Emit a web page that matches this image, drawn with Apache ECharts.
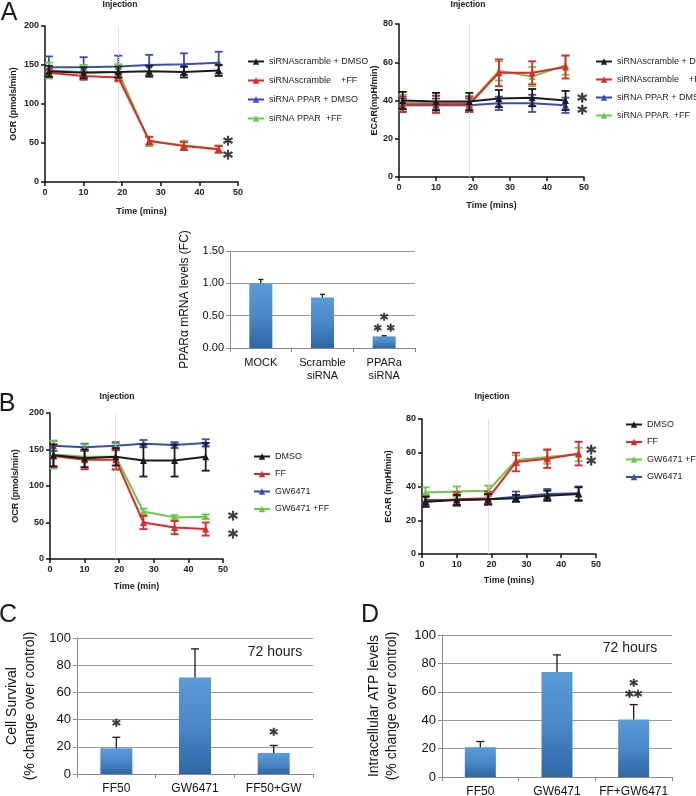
<!DOCTYPE html>
<html><head><meta charset="utf-8">
<script src="https://cdn.jsdelivr.net/npm/echarts/dist/echarts.min.js"></script>
<style>html,body{margin:0;padding:0;background:#fff}#c{width:696px;height:796px}</style>
</head><body><div id="c"></div><script>
// ---------- data ----------
const times = [1, 10, 19, 27, 36, 45];
const injectionTime = 19;

const namesA = ['siRNAscramble + DMSO', 'siRNAscramble    +FF', 'siRNA PPAR + DMSO', 'siRNA PPAR  +FF'];
// Panel A – OCR
const ocrA_scrDMSO = [142, 140, 141, 142, 141, 143];
const ocrA_scrDMSO_sd = [7, 7, 7, 7, 7, 7];
const ocrA_scrFF = [140, 136, 134, 53, 46, 42];
const ocrA_scrFF_sd = [5, 5, 5, 5, 5, 4];
const ocrA_ppDMSO = [147, 147, 148, 150, 151, 153];
const ocrA_ppDMSO_sd = [14, 13, 14, 13, 14, 14];
const ocrA_ppFF = [143, 141, 141, 52, 47, 42];
const ocrA_ppFF_sd = [10, 9, 10, 6, 6, 5];
// Panel A – ECAR
const ecarA_scrDMSO = [40, 39.5, 39.5, 41, 41.5, 40];
const ecarA_scrDMSO_sd = [4.5, 4.5, 4.5, 4.5, 4.5, 5];
const ecarA_scrFF = [38, 38, 38, 54.5, 54.5, 57.5];
const ecarA_scrFF_sd = [4, 4.5, 4, 7, 6, 6];
const ecarA_ppDMSO = [37.5, 37.5, 37.5, 38.5, 38.5, 37.5];
const ecarA_ppDMSO_sd = [3.5, 3.5, 3.5, 3.5, 4.5, 4];
const ecarA_ppFF = [39, 38.5, 38.5, 55.5, 52.5, 58.5];
const ecarA_ppFF_sd = [4, 4, 4, 5, 5, 5];

// mRNA bars
const mrnaCats = ['MOCK', 'Scramble\nsiRNA', 'PPARa\nsiRNA'];
const mrnaVals = [1.0, 0.78, 0.18];
const mrnaSd = [0.06, 0.05, 0.01];

const namesB = ['DMSO', 'FF', 'GW6471', 'GW6471 +FF'];
// Panel B – OCR
const ocrB_DMSO = [142, 138, 140, 135, 135, 140];
const ocrB_DMSO_sd = [15, 12, 12, 22, 22, 19];
const ocrB_FF = [141, 136, 136, 50, 43, 41];
const ocrB_FF_sd = [15, 13, 13, 9, 9, 9];
const ocrB_GW = [155, 153, 155, 158, 156, 159];
const ocrB_GW_sd = [7, 5, 5, 5, 4, 5];
const ocrB_GWFF = [143, 140, 140, 65, 57, 58];
const ocrB_GWFF_sd = [19, 17, 18, 4, 3, 3];
// Panel B – ECAR
const ecarB_DMSO = [31, 32, 32.5, 33, 34.5, 35.5];
const ecarB_DMSO_sd = [3, 3, 3, 2, 3, 4];
const ecarB_FF = [31, 32.5, 33, 54.5, 56.5, 59.5];
const ecarB_FF_sd = [3, 4, 4, 5.5, 5.5, 7];
const ecarB_GWFF = [36.5, 37, 37.5, 55.5, 57.5, 59];
const ecarB_GWFF_sd = [3, 3, 3, 3, 4, 4];
const ecarB_GW = [32, 32, 32.5, 34, 35.5, 36];
const ecarB_GW_sd = [3, 3, 3, 3, 3, 4];

// Panel C
const survCats = ['FF50', 'GW6471', 'FF50+GW'];
const survVals = [19, 71, 15.5];
const survSd = [8, 21, 5.5];
// Panel D
const atpCats = ['FF50', 'GW6471', 'FF+GW6471'];
const atpVals = [21, 74, 40.5];
const atpSd = [4, 12, 10.5];

// significance marks [x, y, text]
const starsAL = [[47.4, 55, '*'], [47.4, 37, '*']];
const starsAR = [[49.5, 42, '*'], [49.5, 36, '*']];
const starsMrna = [[2, 0.49, '*'], [2, 0.32, '* *']];
const starsBL = [[52.9, 61, '*'], [52.9, 36, '*']];
const starsBR = [[48.6, 62.5, '*'], [48.6, 56, '*']];
const starsC = [[0, 38.5, '*'], [2, 31.5, '*']];
const starsD = [[2, 67, '*'], [2, 59, '**']];

// ---------- helpers ----------
const C = {black: '#1b1b1b', red: '#e3262a', blue: '#3b4db0', green: '#6cc84a'};
const FONT = 'Liberation Sans, Arial, sans-serif';

function errBar(color, cap, both, lw) {
  return function (params, api) {
    const x = api.value(0), y = api.value(1), e = api.value(2);
    const p1 = api.coord([x, y + e]);
    const p0 = api.coord([x, both ? y - e : y]);
    const st = {stroke: color, lineWidth: lw};
    const ch = [
      {type: 'line', shape: {x1: p1[0], y1: p1[1], x2: p0[0], y2: p0[1]}, style: st},
      {type: 'line', shape: {x1: p1[0] - cap, y1: p1[1], x2: p1[0] + cap, y2: p1[1]}, style: st}
    ];
    if (both) ch.push({type: 'line', shape: {x1: p0[0] - cap, y1: p0[1], x2: p0[0] + cap, y2: p0[1]}, style: st});
    return {type: 'group', children: ch};
  };
}

function lineSet(gi, name, color, ys, es, z) {
  return [
    {type: 'custom', name: name + ' SD' + gi, xAxisIndex: gi, yAxisIndex: gi, z: z, silent: true,
      encode: {x: 0, y: 1}, data: times.map((x, i) => [x, ys[i], es[i]]),
      renderItem: errBar(color, 4, true, 1.8)},
    {type: 'line', name: name, xAxisIndex: gi, yAxisIndex: gi, z: z, silent: true,
      data: times.map((x, i) => [x, ys[i]]), symbol: 'triangle', symbolSize: 7,
      lineStyle: {color: color, width: 2}, itemStyle: {color: color}}
  ];
}

function injLine(gi) {
  return {type: 'line', xAxisIndex: gi, yAxisIndex: gi, data: [], silent: true,
    markLine: {silent: true, symbol: 'none', label: {show: false},
      lineStyle: {color: '#c8c8c8', type: 'dotted', width: 1}, data: [{xAxis: injectionTime}]}};
}

function stars(gi, pts, fs) {
  return {type: 'scatter', xAxisIndex: gi, yAxisIndex: gi, data: pts, symbolSize: 1, clip: false, silent: true, z: 20,
    itemStyle: {color: 'rgba(0,0,0,0)'},
    label: {show: true, position: 'inside', formatter: p => p.value[2], fontSize: fs, fontWeight: 'bold', color: '#111',
      fontFamily: 'DejaVu Sans', offset: [0, fs * 0.3], textBorderColor: '#111', textBorderWidth: 0.6}};
}

function barSet(gi, vals, sd, bw, cap) {
  return [
    {type: 'bar', xAxisIndex: gi, yAxisIndex: gi, data: vals, barWidth: bw, silent: true,
      itemStyle: {color: new echarts.graphic.LinearGradient(0, 0, 0, 1, [
        {offset: 0, color: '#5b9bd8'}, {offset: 0.5, color: '#4a88c8'}, {offset: 1, color: '#2d67a6'}])}},
    {type: 'custom', xAxisIndex: gi, yAxisIndex: gi, z: 5, silent: true, encode: {x: 0, y: 1},
      data: vals.map((v, i) => [i, v, sd[i]]), renderItem: errBar('#1a1a1a', cap, false, 1.3)}
  ];
}

const lineTxt = {fontSize: 9, fontWeight: 'bold', color: '#222', fontFamily: FONT};
function lineX(gi, name, gap) {
  return {type: 'value', gridIndex: gi, min: 0, max: 50, interval: 10, name: name, nameLocation: 'middle', nameGap: gap,
    nameTextStyle: lineTxt,
    axisLine: {show: true, onZero: false, lineStyle: {color: '#111', width: 1.5}},
    axisTick: {show: true, length: 4, lineStyle: {color: '#111', width: 1.5}},
    axisLabel: Object.assign({margin: 6}, lineTxt), splitLine: {show: false}};
}
function lineY(gi, max, interval, name, gap) {
  return {type: 'value', gridIndex: gi, min: 0, max: max, interval: interval, name: name, nameLocation: 'middle', nameGap: gap,
    nameTextStyle: lineTxt,
    axisLine: {show: true, onZero: false, lineStyle: {color: '#111', width: 1.5}},
    axisTick: {show: true, length: 4, lineStyle: {color: '#111', width: 1.5}},
    axisLabel: Object.assign({margin: 6}, lineTxt), splitLine: {show: false}};
}
function barX(gi, cats, fs) {
  return {type: 'category', gridIndex: gi, data: cats,
    axisLine: {show: true, lineStyle: {color: '#8a8a8a', width: 1}},
    axisTick: {show: true, length: 4, alignWithLabel: false, lineStyle: {color: '#8a8a8a'}},
    axisLabel: {interval: 0, hideOverlap: false, fontSize: fs, color: '#111', fontFamily: FONT, margin: 8, lineHeight: fs + 2}};
}
function barY(gi, max, interval, name, gap, fs, nfs, fmt) {
  return {type: 'value', gridIndex: gi, min: 0, max: max, interval: interval, name: name, nameLocation: 'middle', nameGap: gap,
    nameTextStyle: {fontSize: nfs, color: '#111', fontFamily: FONT, lineHeight: nfs + 4},
    axisLine: {show: true, lineStyle: {color: '#8a8a8a', width: 1}},
    axisTick: {show: true, length: 4, lineStyle: {color: '#8a8a8a'}},
    axisLabel: {fontSize: fs, color: '#111', fontFamily: FONT, margin: 6, formatter: fmt},
    splitLine: {show: true, lineStyle: {color: '#9a9a9a', width: 1}}};
}
function legend(names, left, top, gap) {
  return {data: names, orient: 'vertical', left: left, top: top, itemGap: gap, itemWidth: 16, itemHeight: 8,
    selectedMode: false, textStyle: {fontSize: 9, color: '#222', fontFamily: FONT}, padding: 0};
}
function txt(text, x, y, size, weight) {
  return {type: 'text', x: x, y: y, silent: true,
    style: {text: text, fontSize: size, fontWeight: weight || 'normal', fontFamily: FONT, fill: '#1a1a1a',
      align: 'center', verticalAlign: 'middle', textAlign: 'center', textVerticalAlign: 'middle'}};
}

const grid = [
  {left: 45, top: 26, width: 193, height: 156},
  {left: 399, top: 24, width: 185, height: 153},
  {left: 230, top: 251, width: 185, height: 97},
  {left: 50, top: 413, width: 173, height: 146},
  {left: 422, top: 419, width: 174, height: 135},
  {left: 77, top: 638, width: 236, height: 136},
  {left: 442, top: 635, width: 230, height: 142}
].map(g => Object.assign({containLabel: false, outerBoundsMode: 'none'}, g));

const series = [].concat(
  injLine(0),
  lineSet(0, namesA[2], C.blue, ocrA_ppDMSO, ocrA_ppDMSO_sd, 2),
  lineSet(0, namesA[3], C.green, ocrA_ppFF, ocrA_ppFF_sd, 3),
  lineSet(0, namesA[1], C.red, ocrA_scrFF, ocrA_scrFF_sd, 4),
  lineSet(0, namesA[0], C.black, ocrA_scrDMSO, ocrA_scrDMSO_sd, 5),
  stars(0, starsAL, 19),

  injLine(1),
  lineSet(1, namesA[2], C.blue, ecarA_ppDMSO, ecarA_ppDMSO_sd, 2),
  lineSet(1, namesA[3], C.green, ecarA_ppFF, ecarA_ppFF_sd, 3),
  lineSet(1, namesA[1], C.red, ecarA_scrFF, ecarA_scrFF_sd, 4),
  lineSet(1, namesA[0], C.black, ecarA_scrDMSO, ecarA_scrDMSO_sd, 5),
  stars(1, starsAR, 19),

  barSet(2, mrnaVals, mrnaSd, 23, 2.5),
  stars(2, starsMrna, 15),

  injLine(3),
  lineSet(3, namesB[2], C.blue, ocrB_GW, ocrB_GW_sd, 2),
  lineSet(3, namesB[3], C.green, ocrB_GWFF, ocrB_GWFF_sd, 3),
  lineSet(3, namesB[1], C.red, ocrB_FF, ocrB_FF_sd, 4),
  lineSet(3, namesB[0], C.black, ocrB_DMSO, ocrB_DMSO_sd, 5),
  stars(3, starsBL, 19),

  injLine(4),
  lineSet(4, namesB[2], C.blue, ecarB_GW, ecarB_GW_sd, 2),
  lineSet(4, namesB[3], C.green, ecarB_GWFF, ecarB_GWFF_sd, 3),
  lineSet(4, namesB[1], C.red, ecarB_FF, ecarB_FF_sd, 4),
  lineSet(4, namesB[0], C.black, ecarB_DMSO, ecarB_DMSO_sd, 5),
  stars(4, starsBR, 19),

  barSet(5, survVals, survSd, 32, 4),
  stars(5, starsC, 16),
  barSet(6, atpVals, atpSd, 31, 4),
  stars(6, starsD, 16)
);

const option = {
  animation: false,
  backgroundColor: '#fff',
  grid: grid,
  xAxis: [
    lineX(0, 'Time (mins)', 25),
    lineX(1, 'Time (mins)', 24),
    barX(2, mrnaCats, 11),
    lineX(3, 'Time (min)', 23),
    lineX(4, 'Time (mins)', 22),
    barX(5, survCats, 12),
    barX(6, atpCats, 12)
  ],
  yAxis: [
    lineY(0, 200, 50, 'OCR (pmols/min)', 27),
    lineY(1, 80, 20, 'ECAR(mpH/min)', 19),
    barY(2, 1.5, 0.5, 'PPARα mRNA levels (FC)', 37, 11, 12, v => v.toFixed(2)),
    lineY(3, 200, 50, 'OCR (pmols/min)', 30),
    lineY(4, 80, 20, 'ECAR (mpH/min)', 29),
    barY(5, 100, 20, 'Cell Survival\n(% change over control)', 38, 13, 14),
    barY(6, 100, 20, 'Intracellular ATP levels\n(% change over control)', 41, 13, 14)
  ],
  legend: [
    legend(namesA, 247, 57, 10),
    legend(namesA, 595, 57, 9),
    legend(namesB, 253, 452, 8.5),
    legend([namesB[0], namesB[1], namesB[3], namesB[2]], 625, 420, 8.5)
  ],
  graphic: [
    txt('A', 9, 13, 25), txt('B', 7, 404, 25), txt('C', 8, 615, 25), txt('D', 370, 615, 25),
    txt('Injection', 120, 5, 8.5, 'bold'), txt('Injection', 468, 5, 8.5, 'bold'),
    txt('Injection', 117, 397, 8.5, 'bold'), txt('Injection', 492, 397, 8.5, 'bold'),
    txt('72 hours', 275, 652, 14), txt('72 hours', 630, 648, 14)
  ],
  series: series
};

const chart = echarts.init(document.getElementById('c'), null, {renderer: 'canvas'});
chart.setOption(option);
</script></body></html>
